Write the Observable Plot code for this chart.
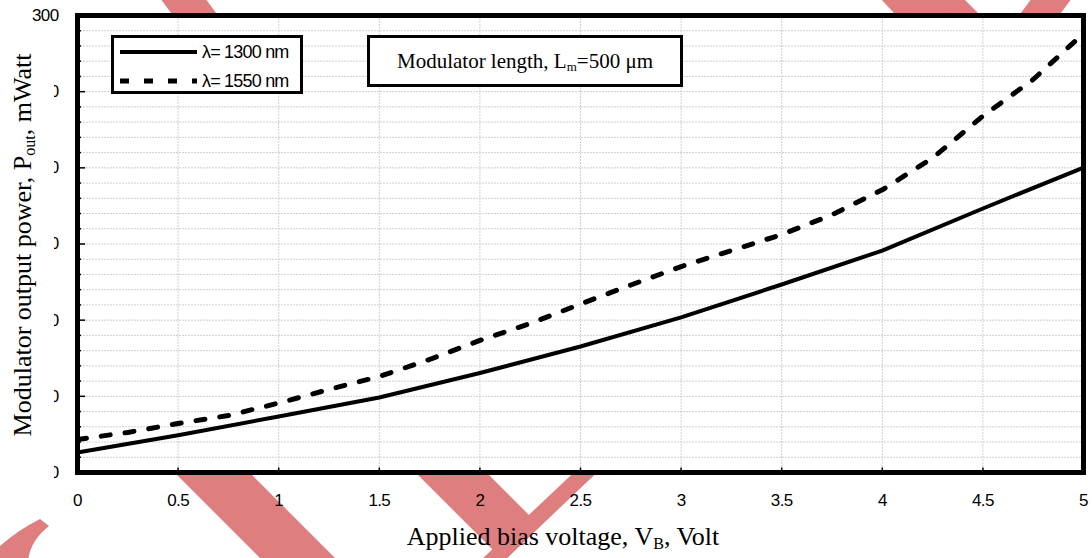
<!DOCTYPE html>
<html>
<head>
<meta charset="utf-8">
<script src="https://cdn.jsdelivr.net/npm/d3@7"></script>
<script src="https://cdn.jsdelivr.net/npm/@observablehq/plot@0.6"></script>
<style>
  body { margin: 0; background: #fff; }
  #wrap { position: relative; width: 1092px; height: 558px; overflow: hidden; }
  #wm { position: absolute; left: 0; top: 0; z-index: 0; }
  #chart { position: absolute; left: 0; top: 0; z-index: 1; }
  .serif { font-family: "Liberation Serif", "Times New Roman", serif; color: #000; }
  .sans { font-family: "Liberation Sans", Arial, sans-serif; color: #000; }
  .ytitle { position: absolute; left: 0; top: 28px; width: 54px; height: 462px; background: #fff; z-index: 2; }
  .ytitle span { position: absolute; left: 23px; top: 217px; transform: translate(-50%, -50%) rotate(-90deg); white-space: nowrap; font-size: 26px; }
  .xtitle { position: absolute; left: 313px; width: 500px; top: 522px; text-align: center; font-size: 26px; z-index: 2; white-space: nowrap; }
  sub { font-size: 0.62em; vertical-align: -0.25em; line-height: 0; }
  .legend { position: absolute; left: 111px; top: 35px; width: 192px; height: 59px; box-sizing: border-box; border: 3px solid #000; background: #fff; z-index: 2; }
  .legend svg { position: absolute; left: 6px; top: 0; }
  .legend .lab { position: absolute; left: 88px; font-size: 18px; letter-spacing: -0.8px; line-height: 20px; white-space: nowrap; }
  .note { position: absolute; left: 367px; top: 35px; width: 316px; height: 52px; box-sizing: border-box; border: 3px solid #000; background: #fff; z-index: 2; text-align: center; font-size: 21px; line-height: 46px; white-space: nowrap; }
</style>
</head>
<body>
<div id="wrap">
  <svg id="wm" width="1092" height="558"></svg>
  <div id="chart"></div>
  <div class="ytitle serif"><span>Modulator output power, P<sub>out</sub>, mWatt</span></div>
  <div class="xtitle serif">Applied bias voltage, V<sub>B</sub>, Volt</div>
  <div class="legend sans">
    <svg width="82" height="56">
      <line x1="0" x2="77" y1="14" y2="14" stroke="#000" stroke-width="4"></line>
      <line x1="0" x2="77" y1="43" y2="43" stroke="#000" stroke-width="5" stroke-dasharray="9,15"></line>
    </svg>
    <div class="lab" style="top:4px">λ= 1300 nm</div>
    <div class="lab" style="top:33px">λ= 1550 nm</div>
  </div>
  <div class="note serif">Modulator length, L<sub>m</sub>=500 μm</div>
</div>
<script>
// Output power (mW) versus applied bias voltage (V)
const bias1300 = [0, 0.5, 1, 1.5, 2, 2.5, 3, 3.5, 4, 4.5, 5];
const power1300 = [13.1, 24.5, 36.8, 49.2, 65.3, 82.7, 101.8, 123.4, 145.7, 173.3, 200.2];

const bias1550 = [0, 0.25, 0.5, 0.75, 1, 1.25, 1.5, 1.75, 2, 2.25, 2.5,
                  2.75, 3, 3.25, 3.5, 3.75, 4, 4.25, 4.5, 4.75, 5];
const power1550 = [21.7, 26.3, 32.2, 37.4, 45.6, 54.5, 63.0, 74.2, 86.7, 97.8, 110.6,
                   123.1, 135.2, 145.7, 156.2, 169.2, 185.6, 206.4, 234.0, 258.0, 288.2];

const xTicks = [0, 0.5, 1, 1.5, 2, 2.5, 3, 3.5, 4, 4.5, 5];
const yTicks = [0, 50, 100, 150, 200, 250, 300];
const yMinor = d3.range(0, 301, 10);

const line1300 = bias1300.map((v, i) => ({v, p: power1300[i]}));
const line1550 = bias1550.map((v, i) => ({v, p: power1550[i]}));

const grid = {stroke: "#cfcfcf", strokeWidth: 1, strokeDasharray: "2,1", strokeOpacity: 1};
const font = "'Liberation Sans', Arial, sans-serif";

const chart = Plot.plot({
  width: 1092,
  height: 520,
  marginLeft: 77,
  marginRight: 9,
  marginTop: 15,
  marginBottom: 48,
  style: {background: "transparent", fontFamily: font, fontSize: "17px", color: "#000"},
  x: {domain: [0, 5]},
  y: {domain: [0, 300]},
  marks: [
    Plot.frame({fill: "white", stroke: null}),
    Plot.ruleY(yMinor.filter(d => d > 0 && d < 300), grid),
    Plot.ruleX(xTicks.filter(d => d > 0 && d < 5), grid),
    // inward tick marks along the left and bottom edges
    Plot.ruleY(yMinor, {x1: 0, x2: d => (d % 50 === 0 ? 0.04 : 0.02), stroke: "#000", strokeWidth: 1.5}),
    Plot.ruleX(xTicks, {y1: 0, y2: 3, stroke: "#000", strokeWidth: 1.5}),
    Plot.line(line1300, {x: "v", y: "p", stroke: "#000", strokeWidth: 4}),
    Plot.line(line1550, {x: "v", y: "p", stroke: "#000", strokeWidth: 5, strokeDasharray: "9,15"}),
    Plot.axisX({ticks: xTicks, tickSize: 0, tickPadding: 21, tickFormat: d => String(d), fontSize: 17, label: null}),
    Plot.axisY({ticks: yTicks, tickSize: 0, tickPadding: 19, tickFormat: d => String(d), fontSize: 17, label: null}),
    Plot.frame({stroke: "#000", strokeWidth: 5})
  ]
});
chart.querySelectorAll("text").forEach(t => t.setAttribute("letter-spacing", "-0.6"));
document.getElementById("chart").appendChild(chart);

// red background strokes behind the chart
const wmShapes = [
  "142,440 217,440 337,560 262,560",
  "383,440 454,440 540,526 504,561",
  "585,462 608,462 505,560 481,560",
  "160,-2 205,-2 225,25 180,25",
  "880,-2 963,-2 990,25 905,25",
  "1032,-2 1072,-2 1052,25 1012,25"
];
const wm = d3.select("#wm");
wm.selectAll("polygon").data(wmShapes).join("polygon")
  .attr("points", d => d).attr("fill", "#df7e7e");
wm.append("path")
  .attr("d", "M40,519 L49,526 Q31,540 28,560 L0,560 L0,546 Q18,530 40,519 Z")
  .attr("fill", "#df7e7e");
</script>
</body>
</html>
